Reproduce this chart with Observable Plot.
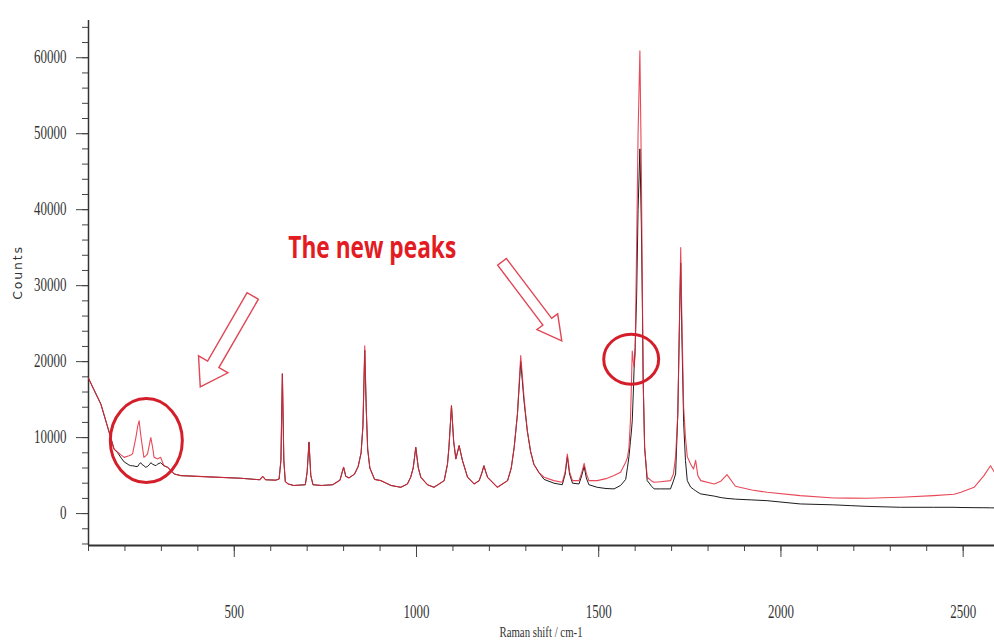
<!DOCTYPE html>
<html><head><meta charset="utf-8">
<script src="https://cdn.jsdelivr.net/npm/d3@7"></script>
<script src="https://cdn.jsdelivr.net/npm/@observablehq/plot@0.6"></script>
<style>body{margin:0;background:#fff}#chart{width:994px;height:641px}</style>
</head><body><div id="chart"></div>
<script>
// Raman shift (cm-1) sample positions
const ramanShift = [
 100,115,134,150,161,170,180,190,198,211,216,221,230,235,239,243,246,252,257,262,268,271,276,280,285,289,298,307,317,326,335,353,
 400,445,518,570,578,586,614,623,628,632,636,640,648,663,695,700,705,710,716,740,770,790,800,806,815,830,840,848,853,858,862,866,872,885,
 902,930,957,975,984,991,998,1005,1012,1030,1048,1076,1085,1089,1096,1102,1108,1117,1126,1140,1158,1172,1179,1185,1190,1195,
 1222,1250,1260,1268,1277,1286,1295,1304,1313,1322,1336,
 1350,1377,1400,1408,1414,1420,1428,1446,1454,1460,1466,1473,1496,1520,1542,1560,1574,1579,1583,1587,1590,1592,1595,1597,1600,
 1604,1608,1613,1617,1620,1622,1626,1633,1645,1652,1670,1697,1705,1711,1717,1722,1725,1728,1733,1738,1743,1752,1760,1766,1772,1780,
 1817,1836,1852,1875,1920,1962,2053,2145,2190,2236,2328,2419,2475,2494,2530,2557,2575,2586
];
// Red spectrum (new sample), counts
const countsNew = [
 17800,16300,14400,11800,10000,8500,8100,7700,7400,7600,7700,7900,10000,11500,12200,10500,9400,7400,7600,7850,9300,10000,8700,7400,7300,7200,7400,6300,6100,5650,5220,5000,
 4900,4800,4650,4450,4900,4450,4400,4560,7000,18400,7000,4200,3900,3700,3800,5500,9400,5000,3800,3700,3800,4400,6100,4900,4700,5200,6200,8000,11500,22100,14000,8500,6000,4500,
 4340,3700,3460,3900,4780,6000,8720,6000,4780,3800,3460,4340,6500,8700,14200,9500,7200,8950,7000,4800,3900,4340,5300,6300,5500,4780,
 3460,4340,6000,8700,13100,20800,15300,10900,8200,6500,5400,
 4780,4340,4120,5500,7850,5500,4340,4340,5500,6620,5300,4340,4340,4600,5000,5440,6750,7400,8700,12200,17500,21400,20000,19300,21000,
 35000,50000,60900,45000,28000,17500,8700,4780,4300,4120,4200,4340,5220,7500,13100,26300,35000,26000,14000,10050,7500,6540,5870,7000,5000,4340,
 3900,4300,5130,3600,3100,2800,2370,2060,2040,2020,2150,2370,2550,2800,3460,5000,6300,5440
];
// Black spectrum (reference), counts
const countsRef = [
 17800,16300,14400,11800,10000,8500,8000,7300,6800,6400,6300,6300,6200,6200,6500,6700,6500,6300,6100,6200,6500,6700,6500,6400,6300,6500,6700,6300,6100,5650,5220,5000,
 4900,4800,4650,4450,4900,4450,4400,4560,7000,18400,7000,4200,3900,3700,3800,5500,9400,5000,3800,3700,3800,4400,6100,4900,4700,5200,6200,8000,11500,21500,14000,8500,6000,4500,
 4340,3700,3460,3900,4780,6000,8720,6000,4780,3800,3460,4340,6500,8700,14200,9500,7200,8950,7000,4800,3900,4340,5300,6300,5500,4780,
 3460,4340,6000,8700,13100,20000,14800,10900,8200,6500,5400,
 4500,4000,3800,5200,7500,5200,4000,3900,5100,6200,4700,3800,3460,3300,3250,3700,4500,6100,7500,9500,11000,12200,16000,19000,21900,
 28500,40000,48000,38000,26700,17500,8700,4340,3600,3250,3250,3250,4300,5220,13100,26300,33000,24000,12000,7000,4340,3500,3200,3000,2800,2590,
 2300,2100,2000,1900,1800,1700,1270,1150,1050,950,830,830,830,800,780,770,760,750
];
const yMajorTicks = [0,10000,20000,30000,40000,50000,60000];
const xMajorTicks = [500,1000,1500,2000,2500];
const xTitle = "Raman shift / cm-1";
const yTitle = "Counts";
const noteText = "The new peaks";
// annotation anchors in data units
const noteAnchor = {shift: 649.5, counts: 33510};
const circles = [
  {shift: 260, counts: 9540, rShift: 98.8, rCounts: 5526},
  {shift: 1590.5, counts: 20260, rShift: 75.4, rCounts: 3290}
];
const arrows = [
  {fromShift: 552, fromCounts: 28580, toShift: 408, toCounts: 16620, shaft: 6.5, head: 17, headLen: 26},
  {fromShift: 1236, fromCounts: 33070, toShift: 1400, toCounts: 22670, shaft: 5.5, head: 13, headLen: 24}
];

const data = ramanShift.map((s, i) => ({shift: s, red: countsNew[i], black: countsRef[i]}));

const plot = Plot.plot({
  width: 994, height: 641,
  marginLeft: 88, marginRight: 0, marginTop: 20, marginBottom: 96,
  x: {domain: [100, 2586], label: null},
  y: {domain: [-4200, 64900], label: null},
  style: {fontFamily: "Liberation Serif", fontSize: "18px", background: "#fff", color: "#333"},
  marks: [
    Plot.axisY(d3.range(-4000, 64001, 2000), {tickSize: 6, tickFormat: () => "", label: null, stroke: "#444"}),
    Plot.axisY(yMajorTicks, {tickSize: 12, tickPadding: 10, tickFormat: d => String(d), label: null, stroke: "#444", fill: "#333"}),
    Plot.axisX(d3.range(100, 2586, 100), {tickSize: 6, tickFormat: () => "", label: null, stroke: "#444"}),
    Plot.axisX(xMajorTicks, {tickSize: 12, tickPadding: 48, tickFormat: d => String(d), label: null, stroke: "#444", fill: "#333"}),
    Plot.ruleX([100], {stroke: "#333", strokeWidth: 1.5}),
    Plot.ruleY([-4200], {stroke: "#333", strokeWidth: 2}),
    Plot.line(data, {x: "shift", y: "black", stroke: "#1c1c1c", strokeWidth: 1}),
    Plot.line(data, {x: "shift", y: "red", stroke: "#e4283a", strokeWidth: 1.1, strokeOpacity: 0.85})
  ]
});
document.getElementById("chart").appendChild(plot);

const svg = d3.select(plot);
// condense tick labels like the original
svg.selectAll("text").each(function() {
  const len = this.getComputedTextLength();
  if (len > 0) { this.setAttribute("textLength", (len * 0.72).toFixed(1)); this.setAttribute("lengthAdjust", "spacingAndGlyphs"); }
});
const sx = plot.scale("x"), sy = plot.scale("y");
const X = v => sx.apply(v), Y = v => sy.apply(v);
const [xr0, xr1] = sx.range, [yr0, yr1] = sy.range;

// axis titles
const xt = svg.append("text").attr("x", (xr0 + xr1) / 2).attr("y", yr0 + 87).attr("dy", "0.35em")
  .attr("text-anchor", "middle").attr("font-family", "Liberation Serif").attr("font-size", 15).attr("fill", "#333").text(xTitle);
xt.attr("textLength", (xt.node().getComputedTextLength() * 0.72).toFixed(1)).attr("lengthAdjust", "spacingAndGlyphs");
svg.append("text").attr("transform", `translate(18,${(yr0 + yr1) / 2 - 10}) rotate(-90)`).attr("dy", "0.35em")
  .attr("text-anchor", "middle").attr("font-family", "DejaVu Sans").attr("font-size", 12.5).attr("letter-spacing", 1.8)
  .attr("fill", "#333").text(yTitle);

// ellipses
for (const c of circles) {
  svg.append("ellipse").attr("cx", X(c.shift)).attr("cy", Y(c.counts))
    .attr("rx", Math.abs(X(c.shift + c.rShift) - X(c.shift))).attr("ry", Math.abs(Y(c.counts + c.rCounts) - Y(c.counts)))
    .attr("fill", "none").attr("stroke", "#d41f2b").attr("stroke-width", 3);
}
// block arrows
for (const a of arrows) {
  const tx = X(a.fromShift), ty = Y(a.fromCounts), px = X(a.toShift), py = Y(a.toCounts);
  const L = Math.hypot(px - tx, py - ty), ux = (px - tx) / L, uy = (py - ty) / L, nx = -uy, ny = ux;
  const bx = px - ux * a.headLen, by = py - uy * a.headLen;
  const pts = [[tx + nx * a.shaft, ty + ny * a.shaft], [bx + nx * a.shaft, by + ny * a.shaft], [bx + nx * a.head, by + ny * a.head],
    [px, py], [bx - nx * a.head, by - ny * a.head], [bx - nx * a.shaft, by - ny * a.shaft], [tx - nx * a.shaft, ty - ny * a.shaft]];
  svg.append("polygon").attr("points", pts.map(p => p.join(",")).join(" "))
    .attr("fill", "#fff").attr("stroke", "#e04654").attr("stroke-width", 1.4).attr("stroke-linejoin", "miter");
}
// note text
const nt = svg.append("text").attr("x", X(noteAnchor.shift)).attr("y", Y(noteAnchor.counts)).attr("text-anchor", "start")
  .attr("font-family", "Open Sans").attr("font-weight", 700).attr("font-size", 31).attr("fill", "#e31b23").text(noteText);
nt.attr("textLength", 168).attr("lengthAdjust", "spacingAndGlyphs");
</script></body></html>
